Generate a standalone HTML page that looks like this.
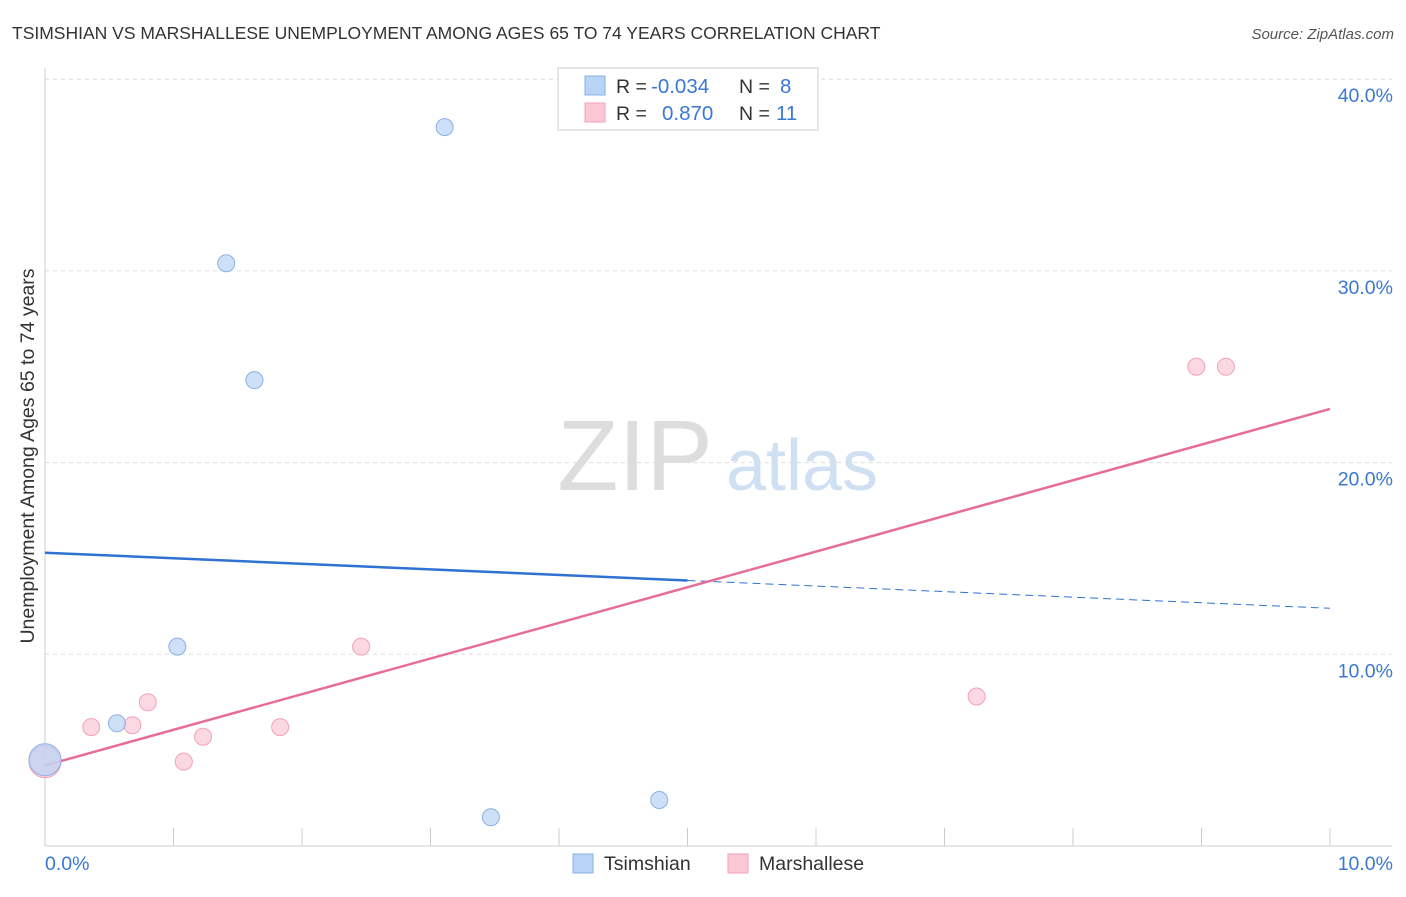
<!DOCTYPE html>
<html><head><meta charset="utf-8"><style>
body{margin:0;background:#fff;font-family:"Liberation Sans",sans-serif;}
svg text{font-family:"Liberation Sans",sans-serif;}
</style></head><body>
<svg id="chart" width="1406" height="892" xmlns="http://www.w3.org/2000/svg">
<text x="12" y="39" font-size="17.5" fill="#333">TSIMSHIAN VS MARSHALLESE UNEMPLOYMENT AMONG AGES 65 TO 74 YEARS CORRELATION CHART</text>
<text x="1394" y="39" font-size="15" fill="#555" font-style="italic" text-anchor="end">Source: ZipAtlas.com</text>
<text x="34" y="456" font-size="19.5" fill="#333" text-anchor="middle" transform="rotate(-90 34 456)">Unemployment Among Ages 65 to 74 years</text>
<g>
<text x="635" y="490" font-size="100" fill="#ddd" font-family="Liberation Serif,serif" text-anchor="middle">ZIP</text>
<text x="802" y="490" font-size="72" fill="#cfe0f3" text-anchor="middle">atlas</text>
</g>
<g id="grid"></g><g id="axes"></g><g id="lines"></g><g id="points"></g>
<g>
<rect x="558" y="68" width="260" height="62" fill="#fff" stroke="#ccc"/>
<rect x="585" y="76" width="20" height="19" fill="#b8d3f5" stroke="#8ab0e4"/>
<rect x="585" y="103" width="20" height="19" fill="#fbc8d6" stroke="#f2a2b9"/>
<text x="616" y="93" font-size="19.5" fill="#333">R = </text><text x="651" y="93" font-size="20.5" fill="#3a78d4">-0.034</text>
<text x="739" y="93" font-size="19.5" fill="#333">N = </text><text x="780" y="93" font-size="20.5" fill="#3a78d4">8</text>
<text x="616" y="120" font-size="19.5" fill="#333">R = </text><text x="662" y="120" font-size="20.5" fill="#3a78d4">0.870</text>
<text x="739" y="120" font-size="19.5" fill="#333">N = </text><text x="776" y="120" font-size="20.5" fill="#3a78d4">11</text>
</g>
<g>
<rect x="573" y="854" width="20" height="19" fill="#b8d3f5" stroke="#8ab0e4"/>
<text x="604" y="870" font-size="19.5" fill="#333">Tsimshian</text>
<rect x="728" y="854" width="20" height="19" fill="#fbc8d6" stroke="#f2a2b9"/>
<text x="759" y="870" font-size="19.5" fill="#333">Marshallese</text>
</g>
</svg>
<script>
const yTicks=[10,20,30,40];
const yTickLabels=["10.0%","20.0%","30.0%","40.0%"];
const tsX=[3.11,1.41,1.63,1.03,0.56,0,3.47,4.78];
const tsY=[37.5,30.4,24.3,10.4,6.4,4.5,1.5,2.4];
const tsR=[8.5,8.5,8.5,8.5,8.5,16,8.5,8.5];
const maX=[0.36,0.68,0.80,1.08,1.23,1.83,2.46,7.25,8.96,9.19,0];
const maY=[6.2,6.3,7.5,4.4,5.7,6.2,10.4,7.8,25.0,25.0,4.4];
const maR=[8.5,8.5,8.5,8.5,8.5,8.5,8.5,8.5,8.5,8.5,16];
const tsTrend=[15.3,12.4];
const maTrend=[4.2,22.8];
const NS="http://www.w3.org/2000/svg";
const X=v=>45+v*128.5, Y=v=>846-v*19.17;
function mk(g,t,a){const e=document.createElementNS(NS,t);for(const k in a)e.setAttribute(k,a[k]);document.getElementById(g).appendChild(e);return e;}
yTicks.forEach((t,i)=>{
 const l=mk('grid','line',{x1:45,x2:1392,y1:Y(t),y2:Y(t),stroke:'#ddd','stroke-dasharray':'4,4'});
 
 
 const tx=mk('grid','text',{x:1393,y:Y(t)+23,'font-size':19.5,fill:'#3a78d4','text-anchor':'end'});
 tx.textContent=yTickLabels[i];
 
 
});
let ax=mk('axes','line',{x1:45,x2:45,y1:68,y2:846,stroke:'#ccc'});


ax=mk('axes','line',{x1:45,x2:1392,y1:846,y2:846,stroke:'#ccc'});


for(let i=0;i<=10;i++){const t=mk('axes','line',{x1:X(i),x2:X(i),y1:828,y2:846,stroke:'#ccc'});
 
 }
[["0.0%",45,'start'],["10.0%",1393,'end']].forEach(d=>{const t=mk('axes','text',{x:d[1],y:870,'font-size':19.5,fill:'#3a78d4','text-anchor':d[2]});t.textContent=d[0];
 
 });
const mid=5;
const tsMid=tsTrend[0]+(tsTrend[1]-tsTrend[0])*mid/10;
let l=mk('lines','line',{x1:X(0),y1:Y(tsTrend[0]),x2:X(mid),y2:Y(tsMid),stroke:'#2f72d2','stroke-width':2.5});


l=mk('lines','line',{x1:X(mid),y1:Y(tsMid),x2:X(10),y2:Y(tsTrend[1]),stroke:'#2f72d2','stroke-width':1,'stroke-dasharray':'8,5'});


l=mk('lines','line',{x1:X(0),y1:Y(maTrend[0]),x2:X(10),y2:Y(maTrend[1]),stroke:'#e86d95','stroke-width':2.5});


maX.forEach((v,i)=>{const c=mk('points','circle',{cx:X(v),cy:Y(maY[i]),r:maR[i],fill:'#fbc8d6','fill-opacity':0.7,stroke:'#f2a2b9'});
 
 });
tsX.forEach((v,i)=>{const c=mk('points','circle',{cx:X(v),cy:Y(tsY[i]),r:tsR[i],fill:'#b8d3f5','fill-opacity':0.7,stroke:'#8ab0e4'});
 
 });
</script>
</body></html>
